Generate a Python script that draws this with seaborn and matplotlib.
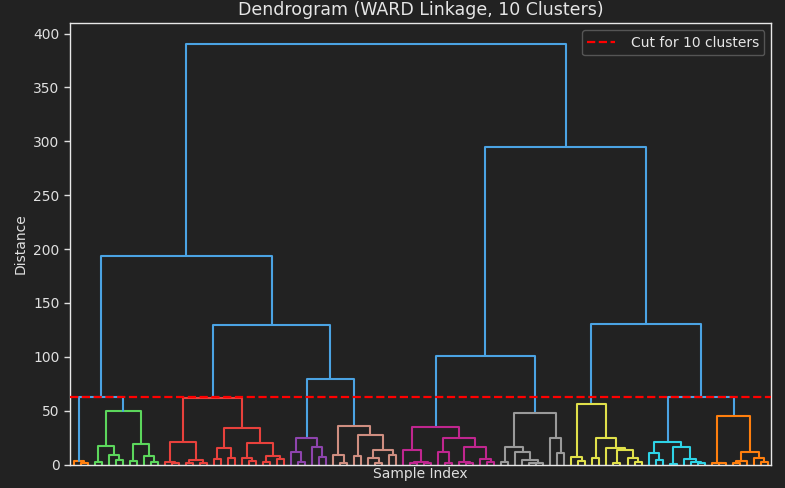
import matplotlib
matplotlib.use("Agg")
import matplotlib.pyplot as plt
import numpy as np
import pandas as pd
import seaborn as sns

# leaf marker, nodes are (left, right, merge distance)
L = None

# the 10 clusters, left to right (merge distances)
orange_a = (L, (L, L, 1.0), 3.0)
green = (((L, L, 2.2), (L, (L, L, 4.6), 9.0), 17.7),
         ((L, L, 3.7), (L, (L, L, 2.2), 7.7), 19.2), 49.6)
red = (((L, (L, L, 1.0), 2.2), ((L, L, 1.0), (L, L, 1.2), 4.6), 20.5),
       (((L, L, 5.3), (L, L, 6.2), 15.5),
        ((L, (L, L, 3.0), 6.2), ((L, L, 2.5), (L, L, 5.0), 8.4), 19.8), 34.1), 61.9)
purple = ((L, (L, L, 2.8), 12.1), (L, (L, L, 6.8), 16.7), 24.2)
salmon = ((L, (L, L, 1.0), 9.0),
          ((L, L, 7.8), ((L, (L, L, 1.5), 5.9), (L, L, 9.3), 13.6), 27.6), 35.7)
magenta = ((L, ((L, L, 1.0), (L, L, 1.2), 2.2), 13.6),
           ((L, (L, L, 1.5), 12.1),
            ((L, (L, L, 1.5), 2.8), (L, (L, L, 2.0), 5.3), 16.7), 24.5), 34.7)
gray = (((L, L, 2.8), (L, (L, ((L, L, 1.0), L, 1.8), 3.8), 12.1), 16.7),
        (L, (L, L, 10.5), 24.8), 48.1)
yellow = ((L, (L, L, 3.7), 7.4),
          ((L, L, 5.9), (L, ((L, L, 1.5), (L, (L, L, 2.0), 5.9), 13.8), 15.2), 24.8), 55.8)
cyan = ((L, (L, L, 4.6), 10.9),
        ((L, L, 0.7), (L, (L, (L, L, 1.0), 2.5), 5.3), 16.1), 21.4)
orange_b = ((L, (L, L, 1.0), 1.5),
            (((L, L, 1.5), L, 3.7), (L, (L, L, 2.0), 5.9), 12.1), 44.7)

clusters = [orange_a, green, red, purple, salmon, magenta, gray, yellow, cyan, orange_b]
cluster_colors = ["#ff7f0e", "#5cd65c", "#e8413c", "#8e44ad", "#cf8e80",
                  "#c0268f", "#9a9a9a", "#e0e04a", "#2ed3e6", "#ff7f0e"]
above_color = "#4ba3e3"

# merges above the cut (ints = cluster index)
top_tree = (((0, 1, 62.9), (2, (3, 4, 79.5), 129.5), 193.5),
            ((5, 6, 100.8), (7, (8, 9, 63.0), 130.3), 295.0), 390.0)
cut_height = 62.4
n_leaves = 100

rows = []
leaf_pos = [0]
seg_id = [0]


def add_seg(xl, hl, xr, hr, h, group):
    for x, y in [(xl, hl), (xl, h), (xr, h), (xr, hr)]:
        rows.append({"seg": seg_id[0], "x": x, "y": y, "group": group})
    seg_id[0] += 1


def walk(node, group):
    if node is None:
        x = 5 + 10 * leaf_pos[0]
        leaf_pos[0] += 1
        return x, 0.0
    left, right, h = node
    xl, hl = walk(left, group)
    xr, hr = walk(right, group)
    add_seg(xl, hl, xr, hr, h, group)
    return (xl + xr) / 2, h


def walk_top(node):
    if isinstance(node, int):
        return walk(clusters[node], "c%d" % node)
    left, right, h = node
    xl, hl = walk_top(left)
    xr, hr = walk_top(right)
    add_seg(xl, hl, xr, hr, h, "above")
    return (xl + xr) / 2, h


walk_top(top_tree)
df = pd.DataFrame(rows)
palette = {"c%d" % i: c for i, c in enumerate(cluster_colors)}
palette["above"] = above_color

bg = "#222222"
sns.set_theme(style="dark", rc={
    "figure.facecolor": bg, "axes.facecolor": bg,
    "axes.edgecolor": "#e8e8e8", "axes.labelcolor": "#e0e0e0",
    "text.color": "#e6e6e6", "xtick.color": "#e0e0e0", "ytick.color": "#e0e0e0",
    "axes.grid": False, "axes.linewidth": 1.0,
    "ytick.left": True, "ytick.major.size": 4, "ytick.major.width": 1.0,
})
plt.rcParams["font.family"] = ["DejaVu Sans"]

fig = plt.figure(figsize=(7.85, 4.88), dpi=100)
ax = fig.add_axes([0.0892, 0.048, 0.8933, 0.9042])

sns.lineplot(data=df, x="x", y="y", units="seg", estimator=None, hue="group",
             palette=palette, sort=False, legend=False, linewidth=1.5, ax=ax)

ax.axhline(cut_height, color="#ff0000", linestyle="--", linewidth=1.6,
           label="Cut for 10 clusters", zorder=5)

ax.set_xlim(0, 10 * n_leaves)
ax.set_ylim(0, 390.0 * 1.05)
ax.set_xticks([])
ax.set_yticks(np.arange(0, 401, 50))
ax.tick_params(axis="y", labelsize=10)
ax.set_title("Dendrogram (WARD Linkage, 10 Clusters)", fontsize=12.5, pad=6)
ax.set_xlabel("Sample Index", fontsize=10, labelpad=2)
ax.set_ylabel("Distance", fontsize=10)
for s in ax.spines.values():
    s.set_color("#e8e8e8")

leg = ax.legend(loc="upper right", fontsize=10, facecolor=bg, edgecolor="#555555",
                framealpha=1.0, handletextpad=1.1)
for t in leg.get_texts():
    t.set_color("#e6e6e6")

fig.savefig("out.png", dpi=100, facecolor=bg)
